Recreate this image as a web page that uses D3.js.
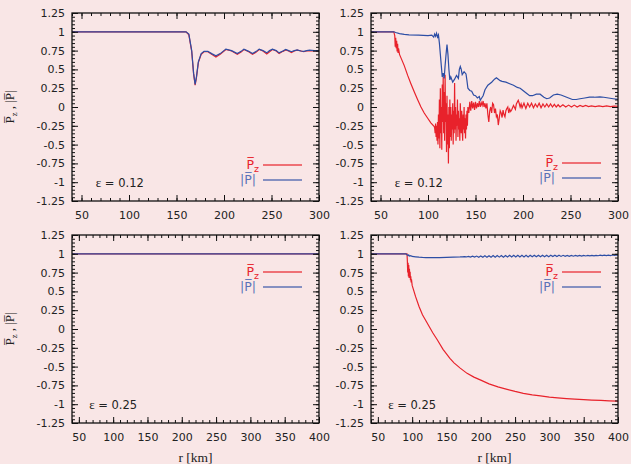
<!DOCTYPE html>
<html>
<head>
<meta charset="utf-8">
<script src="https://cdn.jsdelivr.net/npm/d3@7"></script>
<style>
  body { margin: 0; background: #f9e6e6; }
  svg { display: block; }
</style>
</head>
<body>
<div id="chart"></div>
<script>
// ---- data: [r (km), value] ----

// top left, eps = 0.12
var tlPz = [[40,1],[160,1],[163,0.96],[166,0.74],[168,0.44],[169.6,0.29],[171,0.39],[173,0.59],[176,0.7],[179,0.735],[183,0.735],[187,0.7],[191.5,0.665],[196,0.7],[202,0.765],[208,0.745],[214,0.7],[218,0.73],[221,0.765],[226,0.735],[230,0.7],[234,0.73],[237,0.765],[241,0.745],[245,0.705],[248,0.735],[251,0.765],[255,0.745],[258,0.71],[262,0.74],[265,0.76],[268,0.745],[271,0.725],[274,0.745],[277,0.755],[281,0.745],[284,0.735],[287,0.745],[290,0.75],[295,0.745],[300,0.745]];
var tlP = [[40,1],[160,1],[163,0.97],[166,0.75],[168,0.45],[169.6,0.3],[171,0.4],[173,0.6],[176,0.71],[179,0.74],[183,0.74],[187,0.71],[191.5,0.68],[196,0.71],[202,0.77],[208,0.75],[214,0.71],[218,0.74],[221,0.77],[226,0.74],[230,0.71],[234,0.74],[237,0.77],[241,0.75],[245,0.72],[248,0.75],[251,0.77],[255,0.75],[258,0.72],[262,0.745],[265,0.765],[268,0.75],[271,0.735],[274,0.75],[277,0.76],[281,0.745],[284,0.74],[287,0.75],[290,0.755],[295,0.75],[300,0.75]];

// top right, eps = 0.12
var trPz = [[40,1],[64,1],[65,0.95],[65.5,0.8],[66,0.92],[66.5,0.78],[67,0.88],[67.5,0.74],[68,0.84],[68.5,0.72],[69,0.78],[70,0.7],[72,0.64],[75,0.55],[78.6,0.42],[82,0.31],[85.6,0.2],[89,0.1],[92.6,0],[96,-0.08],[99.7,-0.15],[103,-0.21],[106.6,-0.26],
  [107,-0.28],[107.5,-0.35],[108,-0.22],[108.5,-0.4],[109,-0.25],[109.5,-0.45],[110,-0.2],[110.5,-0.5],[111,-0.1],[111.5,-0.42],[112,0.1],[112.5,-0.55],[113,0.25],[113.5,-0.35],[114,0],[114.5,-0.57],[115,0.3],[115.5,-0.2],[116,0.4],[116.5,-0.35],[117,0.2],[117.5,-0.45],[118,0.43],[118.5,-0.2],[119,0.05],[119.5,-0.6],[120,0.15],[120.5,-0.5],[121,-0.1],[121.5,-0.75],[122,0],[122.5,-0.55],[123,0.1],[123.5,-0.4],[124,0],[124.5,-0.45],[125,-0.1],[125.5,-0.3],[126,0.05],[126.5,-0.5],[127,-0.05],[127.5,-0.35],[128,0.32],[128.5,-0.3],[129,0],[129.5,-0.45],[130,-0.1],[130.5,-0.25],[131,0.1],[131.5,-0.4],[132,-0.05],[132.5,-0.3],[133,-0.15],[133.5,-0.45],[134,0.05],[134.5,-0.2],[135,-0.35],[135.5,-0.05],[136,-0.3],[136.5,-0.45],[137,-0.1],[137.5,-0.3],[138,0],[138.5,-0.35],[139,-0.15],[139.5,-0.42],[140,-0.1],[140.5,-0.3],[141,-0.05],[141.5,-0.25],[142,0],
  [143,-0.08],[144,0.07],[145,-0.05],[146,0.08],[147,-0.02],[148,0.06],[149,-0.04],[150,0.07],[151,-0.02],[152,0.05],[153,0],[154,0.08],[155,0],[156,0.06],[157,0.02],[158,0.08],[159,0],[160,0.05],[161,-0.02],[162,0.05],[163,-0.1],[164,-0.2],[165,-0.05],[166,0],[167,-0.08],[168,0.05],[169,0.03],[170,-0.08],[171,-0.02],[172,-0.13],[173,-0.1],[174,-0.24],[175,-0.15],[176,-0.05],[177,-0.08],[178,-0.14],[179,-0.04],[180,-0.1],[181,-0.13],[182,-0.05],[183,-0.02],[184,0],[185,-0.08],[186,-0.03],[187,-0.06],[188,-0.04],[190,0.02],[192,-0.03],[193,0.04],[195,0.09],[196,0.05],[197,0],[198,0.04],[199,-0.01],[201,0.05],[203,-0.02],[205,0.05],[207,0],[209,0.05],[211,-0.01],[213,0.04],[215,0],[217,0.05],[219,-0.01],[221,0.04],[223,0],[225,0.04],[227,0],[229,0.04],[231,0],[233,0.035],[235,0],[237,0.03],[239,0],[242,0.03],[245,0],[248,0.025],[251,0],[254,0.025],[257,0],[260,0.02],[263,0.005],[266,0.02],[269,0.005],[272,0.015],[276,0.005],[280,0.015],[284,0.005],[288,0.015],[292,0.005],[296,0.012],[300,0.01]];
var trP = [[40,1],[64,1],[66,0.99],[70,0.975],[75,0.965],[80,0.96],[90,0.955],[100,0.95],[104,0.955],[106,0.93],[107,0.97],[108,0.94],[109,0.98],[110,0.93],[111,0.96],[112,0.85],[113,0.7],[114,0.55],[115,0.4],[116,0.45],[117,0.38],[118,0.55],[119,0.7],[120,0.83],[121,0.7],[122,0.5],[123,0.36],[124,0.4],[126,0.33],[128,0.37],[130,0.42],[132,0.38],[133,0.5],[134,0.54],[135,0.5],[136,0.43],[138,0.47],[140,0.44],[141,0.35],[142,0.25],[144,0.22],[146,0.21],[148,0.16],[150,0.15],[152,0.12],[154,0.14],[155,0.09],[156,0.11],[158,0.15],[160,0.23],[163,0.29],[167,0.33],[170,0.37],[172,0.39],[174,0.37],[176,0.35],[178,0.34],[182,0.33],[186,0.31],[190,0.29],[194,0.26],[197,0.25],[200,0.22],[204,0.18],[207,0.15],[210,0.15],[214,0.17],[218,0.17],[222,0.13],[225,0.11],[228,0.12],[232,0.16],[236,0.17],[240,0.16],[244,0.14],[248,0.12],[252,0.1],[256,0.1],[260,0.11],[265,0.12],[270,0.13],[275,0.13],[281,0.135],[285,0.13],[290,0.12],[295,0.11],[300,0.1]];

// bottom left, eps = 0.25
var blPz = [[40,1],[400,1]];
var blP = [[40,1],[400,1]];

// bottom right, eps = 0.25
var brPz = [[40,1],[92.5,1],[93,0.9],[93.5,0.75],[94,0.88],[94.5,0.7],[95,0.85],[95.5,0.68],[96,0.8],[96.5,0.7],[97,0.76],[97.5,0.65],[98,0.7],[98.5,0.62],[99,0.66],[100,0.58],[102,0.52],[105,0.43],[110,0.3],[115,0.19],[120,0.11],[125,0.03],[130,-0.05],[137,-0.15],[145,-0.27],[150,-0.33],[155,-0.39],[161,-0.45],[170,-0.52],[180,-0.59],[190,-0.64],[200,-0.68],[212,-0.73],[225,-0.77],[237,-0.8],[250,-0.83],[262,-0.855],[275,-0.875],[287,-0.89],[300,-0.905],[312,-0.915],[325,-0.925],[337,-0.933],[350,-0.94],[362,-0.945],[375,-0.95],[387,-0.955],[400,-0.958]];
var brP = [[40,1],[91,1],[92,0.99],[93,0.985],[94,0.975],[95,0.985],[96,0.97],[98,0.975],[100,0.965],[105,0.96],[110,0.955],[115,0.952],[120,0.95],[130,0.948],[140,0.95],[150,0.952],[160,0.955],[170,0.958],[173,0.96],
  [176,0.962],[179,0.958],[182,0.966],[185,0.957],[188,0.968],[191,0.956],[194,0.97],[197,0.955],[200,0.972],[203,0.955],[206,0.974],[209,0.955],[212,0.975],[215,0.955],[218,0.976],[221,0.955],[224,0.977],[227,0.956],[230,0.978],[233,0.956],[236,0.978],[239,0.957],[242,0.979],[245,0.957],[248,0.979],[251,0.958],[254,0.98],[257,0.958],[260,0.98],[263,0.959],[266,0.98],[269,0.959],[272,0.981],[275,0.96],[278,0.981],[281,0.96],[284,0.981],[287,0.961],[290,0.981],[293,0.961],[296,0.981],[299,0.962],[302,0.981],[305,0.963],[308,0.981],[311,0.964],[314,0.98],[317,0.965],[320,0.98],[323,0.966],[326,0.979],[329,0.967],[332,0.979],[335,0.968],[338,0.978],[341,0.969],[344,0.978],[347,0.97],[350,0.978],[353,0.971],[356,0.978],[359,0.972],[362,0.979],[365,0.973],[368,0.98],[371,0.974],[374,0.981],[377,0.975],[380,0.982],[383,0.976],[386,0.983],[389,0.977],[392,0.984],[395,0.978],[398,0.984],[400,0.98]];

var yTicks = [1.25, 1, 0.75, 0.5, 0.25, 0, -0.25, -0.5, -0.75, -1, -1.25];
var xTicksTop = [50, 100, 150, 200, 250, 300];
var xTicksBottom = [50, 100, 150, 200, 250, 300, 350, 400];
var epsLabels = ["0.12", "0.12", "0.25", "0.25"];

var red = "#e8222b", blue = "#2d4ea5";
var width = 631, height = 464;
var pw = 247, ph = 188;

var svg = d3.select('#chart')
  .append('svg')
  .attr('width', width)
  .attr('height', height);

svg.append('rect').attr('width', width).attr('height', height).attr('fill', '#f9e6e6');

var panels = [
  {left: 72, top: 13, xmax: 300, xt: xTicksTop, pz: tlPz, p: tlP, eps: epsLabels[0], legTop: 152, ylab: true, xlab: false},
  {left: 371, top: 13, xmax: 300, xt: xTicksTop, pz: trPz, p: trP, eps: epsLabels[1], legTop: 150, ylab: false, xlab: false},
  {left: 72, top: 235, xmax: 400, xt: xTicksBottom, pz: blPz, p: blP, eps: epsLabels[2], legTop: 37, ylab: true, xlab: true},
  {left: 371, top: 235, xmax: 400, xt: xTicksBottom, pz: brPz, p: brP, eps: epsLabels[3], legTop: 37, ylab: false, xlab: true}
];

panels.forEach(function(p, i) {
  var g = svg.append('g').attr('transform', 'translate(' + p.left + ',' + p.top + ')');

  var x = d3.scaleLinear().domain([40, p.xmax]).range([0, pw]);
  var y = d3.scaleLinear().domain([-1.25, 1.25]).range([ph, 0]);

  g.append('clipPath').attr('id', 'clip' + i)
    .append('rect').attr('width', pw).attr('height', ph);

  var line = d3.line()
    .x(function(d) { return x(d[0]); })
    .y(function(d) { return y(d[1]); });

  var lines = g.append('g').attr('clip-path', 'url(#clip' + i + ')');
  lines.append('path').datum(p.pz)
    .attr('d', line).attr('fill', 'none').attr('stroke', red).attr('stroke-width', 1.2);
  lines.append('path').datum(p.p)
    .attr('d', line).attr('fill', 'none').attr('stroke', blue).attr('stroke-width', 1.2);

  // minor ticks, all four sides
  var xMinor = d3.range(40, p.xmax + 1, 10);
  var yMinor = d3.range(-125, 126, 5).map(function(v) { return v / 100; });

  function addAxis(axis, tr) {
    var a = g.append('g').attr('transform', tr).call(axis);
    a.select('.domain').remove();
    a.selectAll('line').attr('stroke', '#111').attr('stroke-width', 1);
    return a;
  }

  addAxis(d3.axisBottom(x).tickValues(xMinor).tickSize(-3).tickFormat(''), 'translate(0,' + ph + ')');
  addAxis(d3.axisTop(x).tickValues(xMinor).tickSize(-3).tickFormat(''), 'translate(0,0)');
  addAxis(d3.axisLeft(y).tickValues(yMinor).tickSize(-3).tickFormat(''), 'translate(0,0)');
  addAxis(d3.axisRight(y).tickValues(yMinor).tickSize(-3).tickFormat(''), 'translate(' + pw + ',0)');

  addAxis(d3.axisBottom(x).tickValues(p.xt).tickSize(-6).tickPadding(10), 'translate(0,' + ph + ')');
  addAxis(d3.axisTop(x).tickValues(p.xt).tickSize(-6).tickFormat(''), 'translate(0,0)');
  addAxis(d3.axisLeft(y).tickValues(yTicks).tickSize(-6).tickPadding(7).tickFormat(function(d) { return d; }), 'translate(0,0)');
  addAxis(d3.axisRight(y).tickValues(yTicks).tickSize(-6).tickFormat(''), 'translate(' + pw + ',0)');

  g.selectAll('.tick text')
    .style('font-family', 'DejaVu Sans')
    .style('font-size', '11px')
    .attr('fill', '#222');

  g.append('rect').attr('width', pw).attr('height', ph)
    .attr('fill', 'none').attr('stroke', '#111').attr('stroke-width', 1.3);

  // eps label
  var et = g.append('text')
    .attr('x', x(65)).attr('y', y(-1.06))
    .style('font-family', 'DejaVu Sans').style('font-size', '11.5px').attr('fill', '#222');
  et.append('tspan').style('font-family', 'Liberation Serif').style('font-size', '13px').text('\u03b5');
  et.append('tspan').text(' = ' + p.eps);

  // legend
  var leg = g.append('g').attr('transform', 'translate(0,' + p.legTop + ')');
  var t1 = leg.append('text').attr('x', pw - 60).attr('y', 4).attr('text-anchor', 'end')
    .style('font-family', 'DejaVu Sans').style('font-size', '12.5px').attr('fill', red);
  t1.append('tspan').text('P\u0305');
  t1.append('tspan').attr('dy', 3).style('font-size', '9.5px').text('z');
  leg.append('line').attr('x1', pw - 56).attr('x2', pw - 17).attr('y1', 0).attr('y2', 0)
    .attr('stroke', red).attr('stroke-width', 1.3).attr('opacity', 0.8);

  leg.append('text').attr('x', pw - 63).attr('y', 19).attr('text-anchor', 'end')
    .style('font-family', 'DejaVu Sans').style('font-size', '12.5px').attr('fill', '#5a72b8')
    .text('|P\u0305|');
  leg.append('line').attr('x1', pw - 56).attr('x2', pw - 17).attr('y1', 15).attr('y2', 15)
    .attr('stroke', blue).attr('stroke-width', 1.3).attr('opacity', 0.75);

  if (p.ylab) {
    var yl = g.append('text')
      .attr('transform', 'translate(-58,' + ph / 2 + ') rotate(-90)')
      .attr('text-anchor', 'middle')
      .style('font-family', 'Liberation Serif').style('font-size', '13px').attr('fill', '#222');
    yl.append('tspan').text('P\u0305');
    yl.append('tspan').attr('dy', 3).style('font-size', '8.5px').text('z');
    yl.append('tspan').attr('dy', -3).text(' , |P\u0305|');
  }
  if (p.xlab) {
    g.append('text')
      .attr('x', pw / 2).attr('y', ph + 39)
      .attr('text-anchor', 'middle')
      .style('font-family', 'Liberation Serif').style('font-size', '13.5px').attr('fill', '#222')
      .text('r [km]');
  }
});
</script>
</body>
</html>
